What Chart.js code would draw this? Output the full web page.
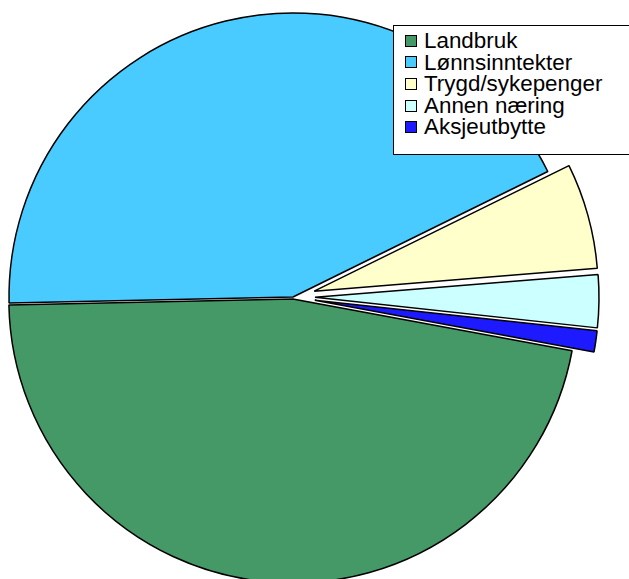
<!DOCTYPE html>
<html>
<head>
<meta charset="utf-8">
<script src="https://cdn.jsdelivr.net/npm/chart.js@4.4.1/dist/chart.umd.min.js"></script>
<style>
  html, body { margin: 0; padding: 0; background: #fff; }
  #wrap { position: relative; width: 629px; height: 579px; overflow: hidden; }
  #income-pie { position: absolute; left: 0; top: 0; }
  #legend {
    position: absolute; left: 393px; top: 25px; width: 250px; height: 130px;
    border: 1px solid #000; background: #fff; box-sizing: border-box;
    padding: 4px 0 0 11px;
    font-family: "Liberation Sans", Arial, sans-serif; font-size: 22.4px; color: #000;
  }
  #legend .item { height: 21.6px; line-height: 21.6px; white-space: nowrap; display: flex; align-items: center; }
  #legend .box { width: 10px; height: 10px; border: 1px solid #000; margin-right: 7px; flex: none; }
</style>
</head>
<body>
<div id="wrap">
  <canvas id="income-pie" width="629" height="579"></canvas>
  <div id="legend"></div>
</div>
<script>
const categories = ['Landbruk', 'Lønnsinntekter', 'Trygd/sykepenger', 'Annen næring', 'Aksjeutbytte'];
const shares = [46.75, 43.05, 6.0, 3.0, 1.2];
const sliceColors = ['#459966', '#49CBFF', '#FFFFCC', '#CCFFFF', '#1E1AFF'];
// chart.js moves an arc by offset/4 px
const sliceOffsets = [8, 0, 88, 88, 88];
const pieRadius = 284;

const canvas = document.getElementById('income-pie');
const ctx = canvas.getContext('2d');

// chart.js grows exploded arcs and trims their angle a little;
// undo both so every slice keeps its real size
const plainExplode = {
  id: 'plainExplode',
  afterDatasetUpdate(chart, args) {
    args.meta.data.forEach(arc => {
      const off = (arc.options.offset || 0) / 4;
      const fix = 1 - Math.sin(Math.min(Math.PI, arc.circumference));
      const grow = off * fix;
      arc.outerRadius = pieRadius - grow;
      const widen = grow / Math.PI / pieRadius / 2;
      arc.startAngle -= widen;
      arc.endAngle += widen;
    });
  }
};

new Chart(ctx, {
  type: 'pie',
  data: {
    labels: categories,
    datasets: [{
      data: shares,
      backgroundColor: sliceColors,
      borderColor: '#000',
      borderWidth: 1.5,
      offset: sliceOffsets,
      clip: false
    }]
  },
  options: {
    responsive: false,
    animation: false,
    rotation: 100.5,
    radius: pieRadius,
    layout: { padding: { left: 0, right: 43, top: 15, bottom: 0 } },
    plugins: {
      legend: { display: false },
      tooltip: { enabled: false }
    }
  },
  plugins: [plainExplode]
});

// legend drawn as html, built from the same arrays
const legend = document.getElementById('legend');
categories.forEach((name, i) => {
  const row = document.createElement('div');
  row.className = 'item';
  const sw = document.createElement('span');
  sw.className = 'box';
  sw.style.background = sliceColors[i];
  const txt = document.createElement('span');
  txt.textContent = name;
  row.appendChild(sw);
  row.appendChild(txt);
  legend.appendChild(row);
});
</script>
</body>
</html>
